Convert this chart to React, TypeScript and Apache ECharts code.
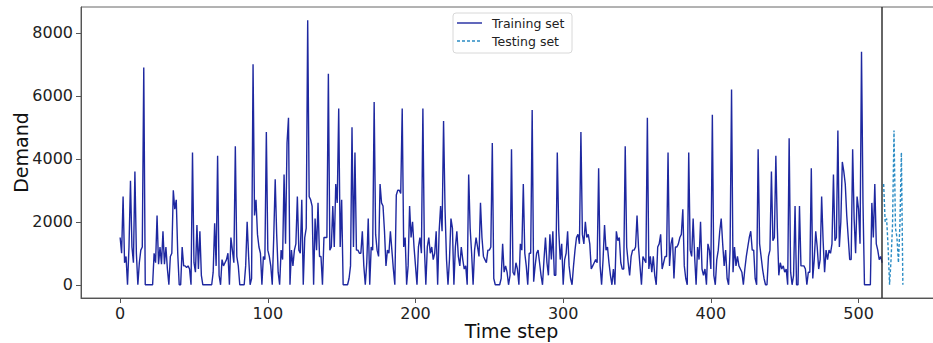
import React, { useEffect, useRef } from "react";
import * as echarts from "echarts";

// Training set demand values (time steps 0..516)
const trainValues: number[] = [
  1500, 1000, 2800, 700, 900, 0, 1200, 3300, 1200, 700,
  3600, 1000, 0, 700, 1100, 1200, 6900, 0, 0, 0,
  0, 0, 0, 1000, 700, 2200, 650, 1200, 650, 1700,
  650, 1200, 500, 0, 900, 1000, 3000, 2400, 2700, 1000,
  0, 0, 1200, 600, 600, 550, 600, 500, 0, 4200,
  700, 400, 1900, 500, 1700, 300, 0, 0, 0, 0,
  0, 0, 0, 400, 1950, 600, 4100, 300, 0, 800,
  600, 700, 800, 1000, 0, 1500, 1100, 700, 4400, 900,
  600, 0, 0, 0, 0, 600, 2000, 900, 0, 200,
  7000, 2200, 2700, 1600, 1200, 1000, 0, 900, 800, 4850,
  1100, 900, 600, 0, 1500, 3350, 1600, 400, 0, 1100,
  800, 3500, 1300, 4500, 5300, 0, 1100, 600, 1100, 1300,
  2800, 1100, 1000, 2700, 0, 1500, 1800, 8400, 2800, 2700,
  2500, 0, 2100, 1100, 2600, 900, 900, 0, 1500, 1500,
  1500, 6700, 1100, 1200, 2500, 1200, 3200, 2600, 5600, 1200,
  2700, 0, 0, 0, 0, 200, 600, 5000, 1200, 4200,
  1100, 1100, 1000, 1000, 1700, 600, 0, 700, 2100, 0,
  1200, 1100, 5800, 1600, 1100, 900, 3200, 2600, 2500, 1700,
  600, 1100, 1000, 1700, 1100, 500, 0, 2850, 3000, 3000,
  2900, 5600, 1200, 1500, 0, 600, 2500, 1500, 2000, 1200,
  600, 0, 1200, 1500, 1000, 5600, 1200, 0, 1200, 1500,
  1000, 1200, 800, 1000, 1700, 0, 1700, 2500, 1700, 5200,
  2400, 800, 0, 800, 2100, 1800, 0, 1200, 1700, 900,
  600, 1200, 800, 500, 600, 0, 3500, 1800, 1000, 0,
  1100, 1500, 1200, 900, 2600, 1500, 900, 800, 700, 1100,
  1100, 1200, 4500, 200, 0, 0, 0, 0, 200, 1300,
  400, 600, 400, 0, 300, 4300, 400, 300, 700, 500,
  0, 1300, 1100, 3200, 1000, 600, 0, 1000, 1000, 5550,
  100, 600, 1000, 1100, 700, 300, 0, 800, 1500, 700,
  300, 1600, 800, 1700, 300, 300, 4200, 1700, 800, 1300,
  0, 800, 1000, 1700, 600, 200, 0, 600, 1100, 1500,
  1600, 1300, 4850, 1600, 1300, 2000, 1500, 1600, 1300, 500,
  600, 700, 800, 700, 3700, 600, 0, 800, 1900, 1100,
  1200, 700, 300, 0, 500, 0, 1700, 1400, 1500, 700,
  500, 500, 4400, 1200, 700, 300, 900, 1100, 1100, 1200,
  2200, 1200, 600, 0, 900, 800, 700, 5300, 500, 900,
  400, 900, 300, 0, 1200, 1300, 1600, 500, 700, 900,
  900, 4200, 600, 1300, 1500, 200, 1200, 1200, 1300, 1500,
  1600, 2400, 600, 200, 0, 4200, 1100, 900, 2100, 900,
  0, 1200, 800, 2000, 500, 300, 500, 0, 1300, 1100,
  500, 5400, 300, 0, 800, 1100, 1700, 2100, 1300, 600,
  1100, 200, 0, 1100, 6200, 400, 1200, 600, 900, 600,
  500, 400, 0, 500, 900, 1200, 1500, 1700, 1100, 1100,
  200, 0, 4300, 1300, 900, 500, 200, 0, 0, 900,
  1100, 3600, 1400, 1500, 4100, 1800, 300, 700, 500, 600,
  400, 500, 0, 4650, 400, 0, 300, 2500, 0, 0,
  2500, 600, 600, 600, 500, 0, 400, 400, 3700, 200,
  800, 1700, 1200, 500, 800, 2800, 1400, 400, 1100, 800,
  1100, 1000, 1300, 3500, 1400, 1500, 4900, 1200, 2000, 3900,
  3600, 3200, 2200, 1500, 800, 800, 4300, 2100, 1000, 2800,
  2400, 1300, 7400, 2600, 0, 0, 0, 0, 0, 2600,
  1500, 3200, 1300, 1100, 800, 900, 700,
];

// Testing set demand values (time steps 517..530)
const testValues: number[] = [
  3200, 2000, 2100, 1200, 0, 800, 1900, 4900, 1800, 1500, 700, 1900, 4200, 0,
];

const testStart = 517;
const splitStep = 516;
const xTicks = [0, 100, 200, 300, 400, 500];
const yTicks = [0, 2000, 4000, 6000, 8000];
const seriesNames = ["Training set", "Testing set"];

const trainColor = "#1e28a0";
const testColor = "#2b8cc4";
const font = "DejaVu Sans";

export default function App() {
  const ref = useRef<HTMLDivElement>(null);

  useEffect(() => {
    if (!ref.current) return;
    const chart = echarts.init(ref.current, null, { renderer: "svg" });
    const trainData = trainValues.map((v, i) => [i, v]);
    const testData = testValues.map((v, i) => [testStart + i, v]);

    chart.setOption({
      animation: false,
      backgroundColor: "#ffffff",
      grid: {
        left: 81,
        right: -9,
        top: 7,
        bottom: 45,
        containLabel: false,
        outerBoundsMode: "none",
        show: true,
        borderColor: "#666",
        borderWidth: 1,
        backgroundColor: "transparent",
      },
      xAxis: {
        type: "value",
        min: -26.5,
        max: 556.5,
        name: "Time step",
        nameLocation: "middle",
        nameGap: 23,
        nameMoveOverlap: false,
        nameTextStyle: { fontSize: 19, color: "#111", fontFamily: font, verticalAlign: "top" },
        axisLine: { show: true, onZero: false, lineStyle: { color: "#555", width: 1 } },
        axisTick: { show: true, customValues: xTicks, length: 5, lineStyle: { color: "#555" } },
        axisLabel: {
          customValues: xTicks,
          fontSize: 16,
          color: "#222",
          margin: 7,
          fontFamily: font,
          formatter: (v: number) => String(v),
        },
        splitLine: { show: false },
      },
      yAxis: {
        type: "value",
        min: -420,
        max: 8820,
        name: "Demand",
        nameLocation: "middle",
        nameGap: 51,
        nameMoveOverlap: false,
        nameTextStyle: { fontSize: 19, color: "#111", fontFamily: font, verticalAlign: "bottom" },
        axisLine: { show: true, onZero: false, lineStyle: { color: "#555", width: 1 } },
        axisTick: { show: true, customValues: yTicks, length: 5, lineStyle: { color: "#555" } },
        axisLabel: {
          customValues: yTicks,
          fontSize: 16,
          color: "#222",
          margin: 8,
          fontFamily: font,
          formatter: (v: number) => String(v),
        },
        splitLine: { show: false },
      },
      series: [
        {
          name: seriesNames[0],
          type: "line",
          data: trainData,
          showSymbol: false,
          symbol: "none",
          lineStyle: { color: trainColor, width: 1.4 },
          itemStyle: { color: trainColor },
          markLine: {
            silent: true,
            symbol: ["none", "none"],
            label: { show: false },
            lineStyle: { color: "#333", width: 1.5, type: "solid" },
            data: [{ xAxis: splitStep }],
          },
        },
        {
          name: seriesNames[1],
          type: "line",
          data: testData,
          showSymbol: false,
          symbol: "none",
          lineStyle: { color: testColor, width: 1.4, type: [3, 2] },
          itemStyle: { color: testColor },
        },
      ],
      graphic: [
        {
          type: "rect",
          shape: { x: 453, y: 13, width: 119, height: 40, r: 3 },
          style: { fill: "rgba(255,255,255,0.9)", stroke: "#d8d8d8", lineWidth: 1 },
          z: 100,
        },
        {
          type: "line",
          shape: { x1: 457, y1: 23, x2: 482, y2: 23 },
          style: { stroke: trainColor, lineWidth: 1.4 },
          z: 101,
        },
        {
          type: "line",
          shape: { x1: 457, y1: 41, x2: 482, y2: 41 },
          style: { stroke: testColor, lineWidth: 1.4, lineDash: [3, 2] },
          z: 101,
        },
        {
          type: "text",
          x: 492,
          y: 23,
          style: {
            text: seriesNames[0],
            fontSize: 12.5,
            fontFamily: font,
            fill: "#222",
            verticalAlign: "middle",
          },
          z: 101,
        },
        {
          type: "text",
          x: 492,
          y: 41,
          style: {
            text: seriesNames[1],
            fontSize: 12.5,
            fontFamily: font,
            fill: "#222",
            verticalAlign: "middle",
          },
          z: 101,
        },
      ],
    });

    return () => {
      chart.dispose();
    };
  }, []);

  return (
    <div
      ref={ref}
      style={{ position: "absolute", left: 0, top: 0, width: 933, height: 343 }}
    />
  );
}
